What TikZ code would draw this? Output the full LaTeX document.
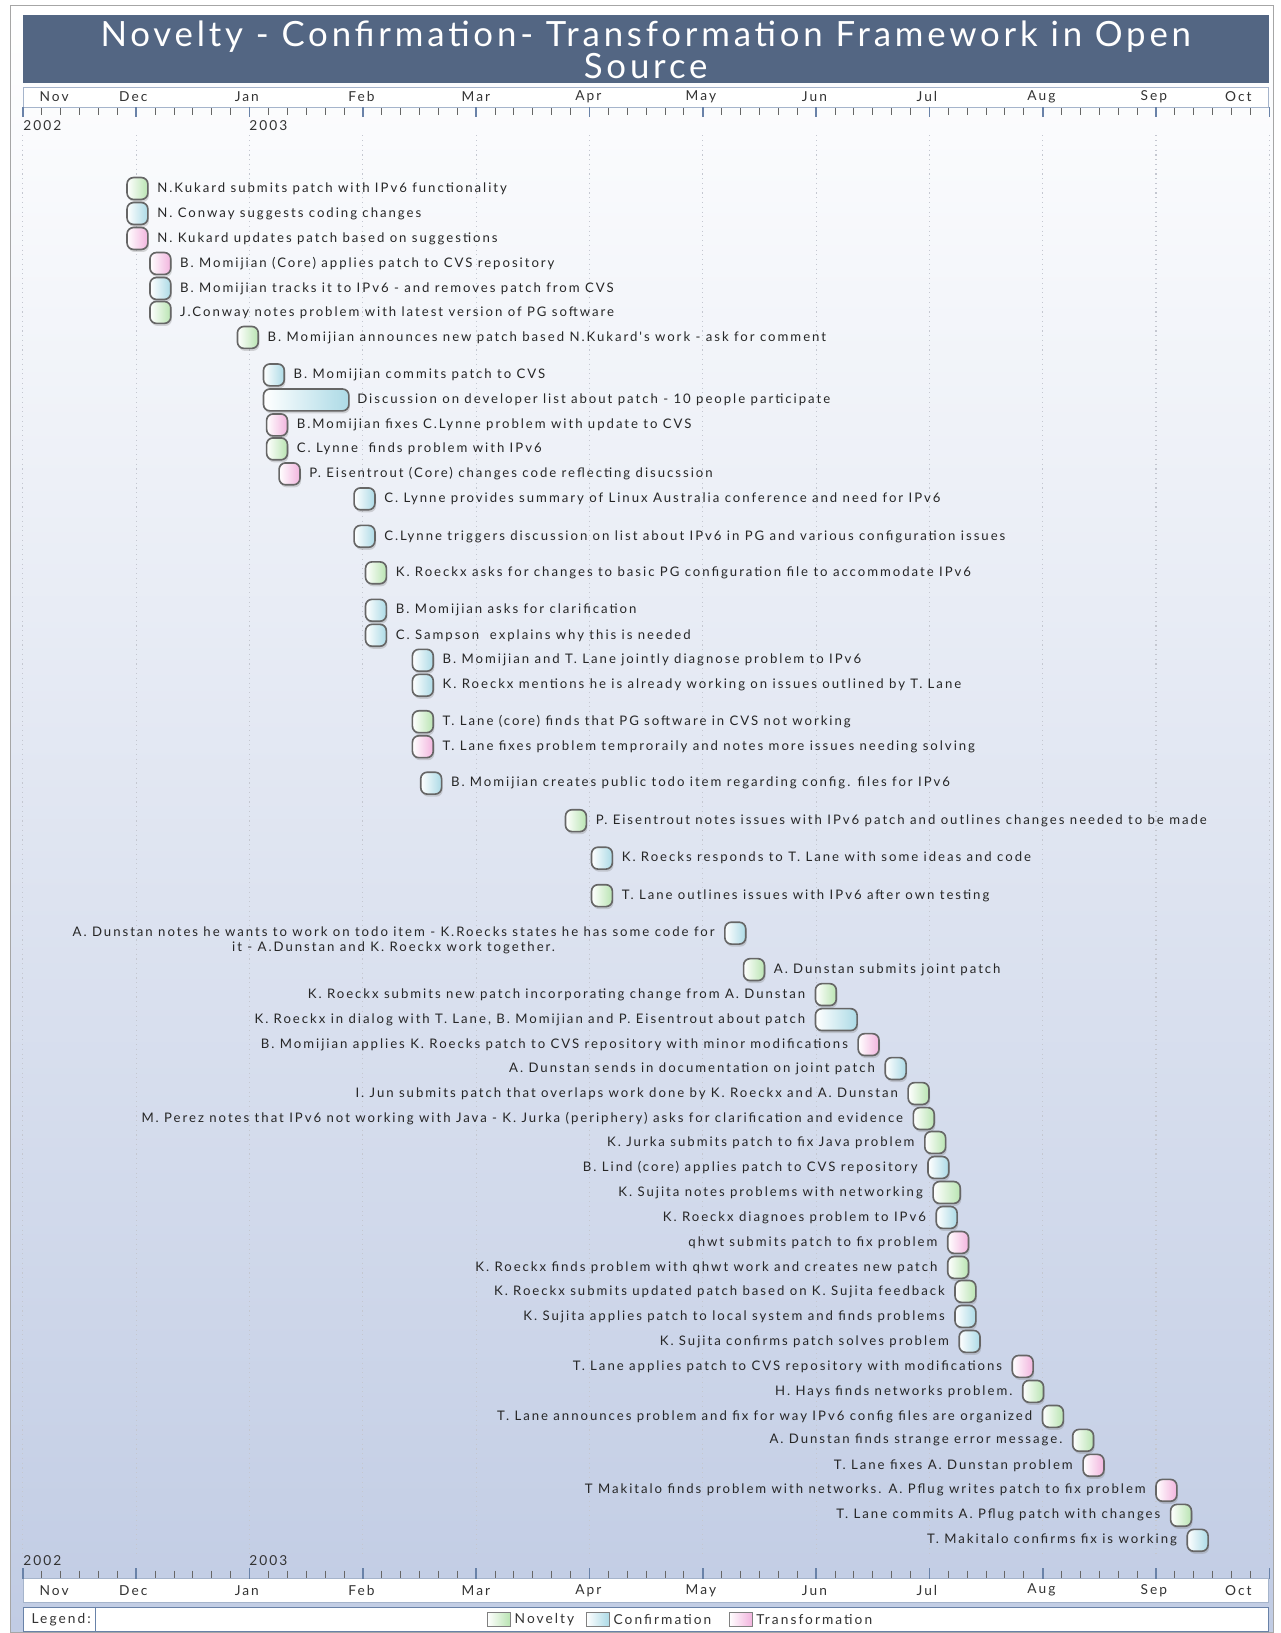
\documentclass[tikz,border=0pt]{standalone}
\usepackage{fontspec}
\setmainfont{Lato}
\newfontfamily\evfont[LetterSpace=15]{Lato}
\newfontfamily\axfont[LetterSpace=15]{Lato}
\newfontfamily\titlefont[LetterSpace=11]{Lato}
\usetikzlibrary{positioning,shadows}
\definecolor{barblue}{RGB}{83,102,131}
\definecolor{novgreen}{RGB}{185,228,178}
\definecolor{confblue}{RGB}{172,218,230}
\definecolor{transpink}{RGB}{242,180,222}
\definecolor{gridgray}{RGB}{196,199,208}
\definecolor{bgbottom}{RGB}{193,204,228}
\definecolor{axisline}{RGB}{105,130,168}
\begin{document}
\begin{tikzpicture}[x=0.02cm,y=-0.02cm,
  evbox/.style={draw=black!60,line width=0.9pt,rounded corners=3.5pt,minimum width=0.4cm,minimum height=0.42cm,inner sep=0pt,
    drop shadow={shadow xshift=0.6pt,shadow yshift=-1.4pt,opacity=0.3}},
  nov/.style={evbox,left color=white,right color=novgreen},
  conf/.style={evbox,left color=white,right color=confblue},
  trans/.style={evbox,left color=white,right color=transpink},
  txt/.style={inner sep=0pt,font=\evfont\fontsize{7.2}{8}\selectfont,text=black!85},
  axlbl/.style={inner sep=0pt,font=\axfont\fontsize{7.5}{8}\selectfont,text=black!80},
  legbox/.style={draw=black!50,minimum width=0.44cm,minimum height=0.28cm,inner sep=0pt}]
\useasboundingbox (0,0) rectangle (1230,1568);
\shade[top color=white,bottom color=bgbottom] (10,5) rectangle (1223,1567);
\draw[black!35] (10,5) rectangle (1223,1567);
\foreach \k in {0,...,11}
  \draw[gridgray,dotted,line width=0.6pt] ({22+\k*108.8},130) -- ({22+\k*108.8},1492);
\fill[barblue] (22,14) rectangle (1218,80);
\node[font=\titlefont\fontsize{19}{17.6}\selectfont,text=white,align=center] (title) at (620,47.5)
  {Novelty - Confirmation- Transformation Framework in Open\\Source};

\filldraw[fill=white,draw=axisline!60] (22,84) rectangle (1218,103);
\filldraw[fill=white,draw=axisline!60] (22,1516) rectangle (1218,1539);
\foreach \i in {0,...,66} {
  \draw[black!60,line width=0.5pt] ({22+\i*108.8/6},104) -- ++(0,6);
  \draw[black!60,line width=0.5pt] ({22+\i*108.8/6},1508) -- ++(0,7);
}
\foreach \k in {0,...,11} {
  \draw[axisline,line width=0.9pt] ({22+\k*108.8},103) -- ++(0,9);
  \draw[axisline,line width=0.9pt] ({22+\k*108.8},1506) -- ++(0,10);
}
\foreach \m/\x in {Nov/52,Dec/128,Jan/237,Feb/347,Mar/457,Apr/565,May/673,Jun/782,Jul/890,Aug/1000,Sep/1108,Oct/1189} {
  \node[axlbl] (top\m) at (\x,93) {\m};
  \node[axlbl] (bot\m) at (\x,1527) {\m};
}
\node[axlbl,anchor=west] (topa) at (22,121) {2002};
\node[axlbl,anchor=west] (topb) at (239,121) {2003};
\node[axlbl,anchor=west] (bota) at (22,1498) {2002};
\node[axlbl,anchor=west] (botb) at (239,1498) {2003};

\node[nov] (e1) at (132,181) {};
\node[txt,right=4.5pt of e1] (t1) {N.Kukard submits patch with IPv6 functionality};
\node[conf] (e2) at (132,205) {};
\node[txt,right=4.5pt of e2] (t2) {N. Conway suggests coding changes};
\node[trans] (e3) at (132,229) {};
\node[txt,right=4.5pt of e3] (t3) {N. Kukard updates patch based on suggestions};
\node[trans] (e4) at (154,253) {};
\node[txt,right=4.5pt of e4] (t4) {B. Momijian (Core) applies patch to CVS repository};
\node[conf] (e5) at (154,277) {};
\node[txt,right=4.5pt of e5] (t5) {B. Momijian tracks it to IPv6 - and removes patch from CVS};
\node[nov] (e6) at (154,300) {};
\node[txt,right=4.5pt of e6] (t6) {J.Conway notes problem with latest version of PG software};
\node[nov] (e7) at (238,324) {};
\node[txt,right=4.5pt of e7] (t7) {B. Momijian announces new patch based N.Kukard's work - ask for comment};
\node[conf] (e8) at (263,360) {};
\node[txt,right=4.5pt of e8] (t8) {B. Momijian commits patch to CVS};
\node[conf,minimum width=1.64cm] (e9) at (294,384) {};
\node[txt,right=4pt of e9] (t9) {Discussion on developer list about patch - 10 people participate};
\node[trans] (e10) at (266,408) {};
\node[txt,right=4.5pt of e10] (t10) {B.Momijian fixes C.Lynne problem with update to CVS};
\node[nov] (e11) at (266,431) {};
\node[txt,right=4.5pt of e11] (t11) {C. Lynne\ \ finds problem with IPv6};
\node[trans] (e12) at (278,455) {};
\node[txt,right=4.5pt of e12] (t12) {P. Eisentrout (Core) changes code reflecting disucssion};
\node[conf] (e13) at (350,479) {};
\node[txt,right=4.5pt of e13] (t13) {C. Lynne provides summary of Linux Australia conference and need for IPv6};
\node[conf] (e14) at (350,515) {};
\node[txt,right=4.5pt of e14] (t14) {C.Lynne triggers discussion on list about IPv6 in PG and various configuration issues};
\node[nov] (e15) at (361,550) {};
\node[txt,right=4.5pt of e15] (t15) {K. Roeckx asks for changes to basic PG configuration file to accommodate IPv6};
\node[conf] (e16) at (361,586) {};
\node[txt,right=4.5pt of e16] (t16) {B. Momijian asks for clarification};
\node[conf] (e17) at (361,610) {};
\node[txt,right=4.5pt of e17] (t17) {C. Sampson\ \ explains why this is needed};
\node[conf] (e18) at (406,634) {};
\node[txt,right=4.5pt of e18] (t18) {B. Momijian and T. Lane jointly diagnose problem to IPv6};
\node[conf] (e19) at (406,658) {};
\node[txt,right=4.5pt of e19] (t19) {K. Roeckx mentions he is already working on issues outlined by T. Lane};
\node[nov] (e20) at (406,693) {};
\node[txt,right=4.5pt of e20] (t20) {T. Lane (core) finds that PG software in CVS not working};
\node[trans] (e21) at (406,717) {};
\node[txt,right=4.5pt of e21] (t21) {T. Lane fixes problem temproraily and notes more issues needing solving};
\node[conf] (e22) at (414,752) {};
\node[txt,right=4.5pt of e22] (t22) {B. Momijian creates public todo item regarding config. files for IPv6};
\node[nov] (e23) at (553,788) {};
\node[txt,right=4.5pt of e23] (t23) {P. Eisentrout notes issues with IPv6 patch and outlines changes needed to be made};
\node[conf] (e24) at (578,824) {};
\node[txt,right=4.5pt of e24] (t24) {K. Roecks responds to T. Lane with some ideas and code};
\node[nov] (e25) at (578,860) {};
\node[txt,right=4.5pt of e25] (t25) {T. Lane outlines issues with IPv6 after own testing};

\node[conf] (e26) at (706,896) {};
\node[txt,align=center,left=5pt of e26,yshift=-4pt] (t26) {A. Dunstan notes he wants to work on todo item - K.Roecks states he has some code for\\it - A.Dunstan and K. Roeckx work together.};
\node[nov] (e27) at (724,931) {};
\node[txt,right=4.5pt of e27] (t27) {A. Dunstan submits joint patch};
\node[nov] (e28) at (793,955) {};
\node[txt,left=5pt of e28] (t28) {K. Roeckx submits new patch incorporating change from A. Dunstan};
\node[conf,minimum width=0.8cm] (e29) at (803,979) {};
\node[txt,left=5pt of e29] (t29) {K. Roeckx in dialog with T. Lane, B. Momijian and P. Eisentrout about patch};
\node[trans] (e30) at (834,1003) {};
\node[txt,left=5pt of e30] (t30) {B. Momijian applies K. Roecks patch to CVS repository with minor modifications};
\node[conf] (e31) at (860,1026) {};
\node[txt,left=5pt of e31] (t31) {A. Dunstan sends in documentation on joint patch};
\node[nov] (e32) at (882,1050) {};
\node[txt,left=5pt of e32] (t32) {I. Jun submits patch that overlaps work done by K. Roeckx and A. Dunstan};
\node[nov] (e33) at (887,1074) {};
\node[txt,left=5pt of e33] (t33) {M. Perez notes that IPv6 not working with Java - K. Jurka (periphery) asks for clarification and evidence};
\node[nov] (e34) at (898,1097) {};
\node[txt,left=5pt of e34] (t34) {K. Jurka submits patch to fix Java problem};
\node[conf] (e35) at (901,1121) {};
\node[txt,left=5pt of e35] (t35) {B. Lind (core) applies patch to CVS repository};
\node[nov,minimum width=0.52cm] (e36) at (909,1145) {};
\node[txt,left=5pt of e36] (t36) {K. Sujita notes problems with networking};
\node[conf] (e37) at (909,1169) {};
\node[txt,left=5pt of e37] (t37) {K. Roeckx diagnoes problem to IPv6};
\node[trans] (e38) at (920,1193) {};
\node[txt,left=5pt of e38] (t38) {qhwt submits patch to fix problem};
\node[nov] (e39) at (920,1217) {};
\node[txt,left=5pt of e39] (t39) {K. Roeckx finds problem with qhwt work and creates new patch};
\node[nov] (e40) at (927,1240) {};
\node[txt,left=5pt of e40] (t40) {K. Roeckx submits updated patch based on K. Sujita feedback};
\node[conf] (e41) at (927,1264) {};
\node[txt,left=5pt of e41] (t41) {K. Sujita applies patch to local system and finds problems};
\node[conf] (e42) at (931,1288) {};
\node[txt,left=5pt of e42] (t42) {K. Sujita confirms patch solves problem};
\node[trans] (e43) at (982,1312) {};
\node[txt,left=5pt of e43] (t43) {T. Lane applies patch to CVS repository with modifications};
\node[nov] (e44) at (992,1336) {};
\node[txt,left=5pt of e44] (t44) {H. Hays finds networks problem.};
\node[nov] (e45) at (1011,1360) {};
\node[txt,left=5pt of e45] (t45) {T. Lane announces problem and fix for way IPv6 config files are organized};
\node[nov] (e46) at (1040,1383) {};
\node[txt,left=5pt of e46] (t46) {A. Dunstan finds strange error message.};
\node[trans] (e47) at (1050,1407) {};
\node[txt,left=5pt of e47] (t47) {T. Lane fixes A. Dunstan problem};
\node[trans] (e48) at (1120,1431) {};
\node[txt,left=5pt of e48] (t48) {T Makitalo finds problem with networks. A. Pflug writes patch to fix problem};
\node[nov] (e49) at (1134,1455) {};
\node[txt,left=5pt of e49] (t49) {T. Lane commits A. Pflug patch with changes};
\node[conf] (e50) at (1150,1479) {};
\node[txt,left=5pt of e50] (t50) {T. Makitalo confirms fix is working};

\filldraw[fill=white,draw=axisline] (22,1543) rectangle (1218,1566);
\draw[axisline] (92,1543) -- (92,1566);
\node[axlbl,anchor=west] (leg) at (30,1555) {Legend:};
\node[legbox,left color=white,right color=novgreen] (lnov) at (479,1555) {};
\node[axlbl,right=2pt of lnov] (lnovt) {Novelty};
\node[legbox,left color=white,right color=confblue] (lconf) at (574,1555) {};
\node[axlbl,right=2pt of lconf] (lconft) {Confirmation};
\node[legbox,left color=white,right color=transpink] (ltrans) at (711,1555) {};
\node[axlbl,right=2pt of ltrans] (ltranst) {Transformation};
\end{tikzpicture}
\end{document}
